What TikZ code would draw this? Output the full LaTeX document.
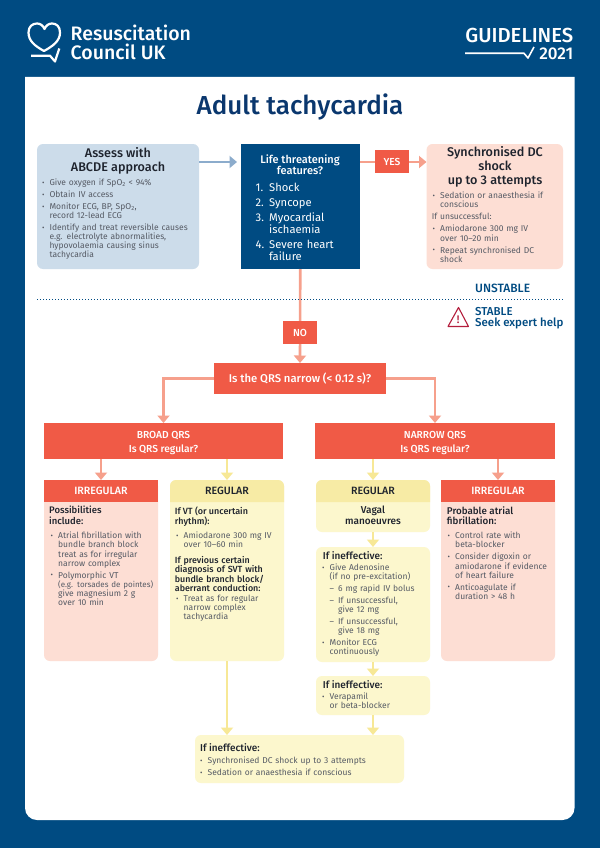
\documentclass[tikz,border=0pt]{standalone}
\usepackage{fontspec}
\setmainfont{Fira Sans}[BoldFont={Fira Sans Medium}]
\usetikzlibrary{arrows.meta, calc}
\definecolor{rcukNavy}{RGB}{0, 75, 130}
\definecolor{rcukTitle}{RGB}{10, 55, 110}
\definecolor{rcukBlue}{RGB}{204, 220, 234}
\definecolor{rcukBlueLine}{RGB}{140, 172, 204}
\definecolor{rcukRed}{RGB}{240, 90, 70}
\definecolor{rcukSalmon}{RGB}{246, 160, 140}
\definecolor{rcukPink}{RGB}{253, 222, 212}
\definecolor{rcukYellow}{RGB}{252, 247, 205}
\definecolor{rcukYellowHead}{RGB}{247, 235, 165}
\definecolor{rcukYellowLine}{RGB}{247, 232, 150}
\definecolor{rcukInk}{RGB}{30, 35, 45}
\definecolor{rcukGrey}{RGB}{85, 90, 100}
\definecolor{rcukWarn}{RGB}{180, 30, 60}
\newcommand{\nl}{\newline}
\newcommand{\bulletItem}[1]{\hangindent=7.5pt\hangafter=1\noindent\hbox to 7.5pt{\raisebox{0.2pt}{\fontsize{7.5}{7.5}\selectfont\textbullet}\hss}#1\par}
\newcommand{\dashItem}[1]{\hangindent=16pt\hangafter=1\noindent\hbox to 7.5pt{\hss}\hbox to 8.5pt{--\hss}#1\par}
\newcommand{\numItem}[2]{\hangindent=13.5pt\hangafter=1\noindent\hbox to 13.5pt{#1\hss}#2\par}
\tikzset{
  sized/.style 2 args={
    minimum width=#1pt,
    minimum height=#2pt,
    inner sep=0pt,
    outer sep=0pt,
    anchor=north west
  },
  boxBlue/.style={fill=rcukBlue, rounded corners=6pt},
  boxNavy/.style={fill=rcukNavy},
  boxRed/.style={fill=rcukRed, text=white, font=\fontsize{10.2}{13.4}\selectfont\bfseries, align=center},
  boxPink/.style={fill=rcukPink, rounded corners=6pt},
  boxYellow/.style={fill=rcukYellow, rounded corners=6pt},
  headRed/.style={font=\fontsize{10.6}{12}\selectfont\bfseries},
  headInk/.style={text=rcukInk, font=\fontsize{10.6}{12}\selectfont\bfseries},
  boxTitle/.style={inner sep=0pt, text=rcukInk, align=center, font=\fontsize{12.6}{13.8}\selectfont\bfseries},
  bodyText/.style={
    inner sep=0pt,
    anchor=north west,
    text width=#1pt,
    align=left,
    text=rcukGrey,
    font=\fontsize{8.5}{9.1}\selectfont,
    execute at begin node={\setlength{\parskip}{2.9pt}}
  },
  leadText/.style={
    inner sep=0pt,
    anchor=north west,
    align=left,
    text=rcukInk,
    font=\fontsize{#1}{10.4}\selectfont\bfseries
  },
  leadText/.default=10,
  linkBlue/.style={draw=rcukBlueLine, line width=2.6pt, -{Triangle[width=12pt,length=7.5pt]}},
  linkRed/.style={draw=rcukSalmon, line width=2.6pt, -{Triangle[width=12pt,length=7.5pt]}},
  linkYellow/.style={draw=rcukYellowLine, line width=2.6pt, -{Triangle[width=12pt,length=7.5pt]}}
}
\begin{document}
\begin{tikzpicture}[x=1pt,y=-1pt]
  \useasboundingbox (0,0) rectangle (600,848);
  \fill[rcukNavy] (0,0) rectangle (600,848);
  \fill[white] (25,77) -- (574.5,77) -- (574.5,100) [rounded corners=12pt] -- (574.5,820) -- (25,820) -- (25,100) [sharp corners] -- cycle;
  % Header
  \draw[white, line width=2.2pt, line join=round]
    (44,51) .. controls (35,46) and (28.5,41) .. (28.5,32.5)
    .. controls (28.5,26.5) and (32.5,23.5) .. (37,23.5)
    .. controls (40.5,23.5) and (43,25.5) .. (44.5,29)
    .. controls (46,25.5) and (48.5,23.5) .. (52,23.5)
    .. controls (56.5,23.5) and (60,26.5) .. (60,32.5)
    .. controls (60,41) and (53,46) .. (44,51) -- cycle;
  \draw[white, line width=2.2pt, line join=round] (31,55.7) -- (50,55.7) -- (55,61.5) -- (59.3,48.5);
  \node[inner sep=0pt, anchor=north west, text=white, align=left, font=\fontsize{19.5}{19.5}\selectfont\bfseries] (rcukName) at (70.5,24.5) {Resuscitation\\Council UK};
  \node[inner sep=0pt, anchor=east, text=white, font=\fontsize{20.3}{22}\selectfont\bfseries] (guideWord) at (573.5,35.8) {GUIDELINES};
  \node[inner sep=0pt, anchor=east, text=white, font=\fontsize{17}{20}\selectfont\bfseries] (guideYear) at (573.5,54) {2021};
  \draw[white, line width=1.6pt, line join=round] (465,53.3) -- (524,53.3) -- (528,58) -- (534,47);
  \node[text=rcukTitle, font=\fontsize{26}{30}\selectfont\bfseries, inner sep=0pt] (title) at (300,107) {Adult tachycardia};
  % Top row
  \node[sized={162}{125}, boxBlue] (abcde) at (37,144) {};
  \node[sized={119.5}{125}, boxNavy] (lifeBox) at (240.5,144) {};
  \node[sized={136.5}{125}, boxPink] (shock) at (426.5,144) {};
  \coordinate (topRow) at (0,162);
  \draw[linkBlue, shorten >=3.5pt] (abcde.east |- topRow) -- (lifeBox.west |- topRow);
  \draw[linkRed] (lifeBox.east |- topRow) -- (shock.west |- topRow);
  \node[sized={34}{23}, boxRed, anchor=center] (yesBox) at (392,161.5) {YES};
  \node[boxTitle] (abcdeTitle) at (118,161) {Assess with\\ABCDE approach};
  \node[bodyText=150] (abcdeList) at (41.8,178.5) {
    \bulletItem{Give oxygen if SpO\textsubscript{2} < 94\%}
    \bulletItem{Obtain IV access}
    \bulletItem{Monitor ECG, BP, SpO\textsubscript{2},\nl record 12-lead ECG}
    \bulletItem{Identify and treat reversible causes\nl e.g. electrolyte abnormalities,\nl hypovolaemia causing sinus\nl tachycardia}
  };
  \node[inner sep=0pt, text=white, align=center, font=\fontsize{11}{11.4}\selectfont\bfseries] (lifeTitle) at (300,164.5) {Life threatening\\features?};
  \node[bodyText=100, text=white, font=\fontsize{11.2}{12}\selectfont] (lifeList) at (255.5,183) {
    \numItem{1.}{Shock}
    \numItem{2.}{Syncope}
    \numItem{3.}{Myocardial\nl ischaemia}
    \numItem{4.}{Severe heart\nl failure}
  };
  \node[boxTitle] (shockTitle) at (495,167) {Synchronised DC\\shock\\up to 3 attempts};
  \node[bodyText=128] (shockList) at (432.5,192) {
    \bulletItem{Sedation or anaesthesia if\nl conscious}
    \noindent\hskip-0.8pt If unsuccessful:\par
    \bulletItem{Amiodarone 300 mg IV\nl over 10--20 min}
    \bulletItem{Repeat synchronised DC\nl shock}
  };
  % QRS question
  \node[sized={172}{31}, boxRed, font=\fontsize{11.3}{13}\selectfont\bfseries] (qrsBox) at (214,363) {Is the QRS narrow (< 0.12 s)?};
  \draw[linkRed] (lifeBox.south) -- (qrsBox.north);
  \node[sized={34}{23}, boxRed, anchor=center] (noBox) at (300,332.5) {NO};
  \coordinate (splitLeft) at (37,299.7);
  \coordinate (splitRight) at (564,299.7);
  \draw[rcukNavy, line width=1pt, dotted] (splitLeft) -- (splitRight);
  \node[inner sep=0pt, anchor=west, text=rcukNavy, font=\fontsize{12}{12}\selectfont\bfseries] (unstable) at (475,288) {UNSTABLE};
  \node[inner sep=0pt, anchor=north west, align=left, text=rcukNavy, font=\fontsize{11.5}{11}\selectfont\bfseries] (stable) at (475,307) {STABLE\\Seek expert help};
  \draw[rcukWarn, line width=1.1pt, line join=round] (458.5,307.5) -- (468.5,326.5) -- (448,326.5) -- cycle;
  \node[inner sep=0pt, text=rcukWarn, font=\fontsize{11}{12}\selectfont\bfseries] (warnMark) at (458.3,319.5) {!};
  % Broad and narrow
  \node[sized={239}{36}, boxRed] (broad) at (44,423) {\rule{0pt}{11pt}BROAD QRS\\Is QRS regular?};
  \node[sized={240}{36}, boxRed] (narrow) at (315,423) {\rule{0pt}{11pt}NARROW QRS\\Is QRS regular?};
  \draw[linkRed] (qrsBox.west) -| (broad.north);
  \draw[linkRed] (qrsBox.east) -| (narrow.north);
  % Broad branches
  \node[sized={114}{181}, boxPink] (irrLeft) at (44,480) {};
  \node[sized={114}{22}, boxRed, headRed] (irrLeftHead) at (44,480) {IRREGULAR};
  \node[sized={114}{181}, boxYellow] (regLeft) at (170,480) {};
  \fill[rcukYellowHead] (170,502) [rounded corners=6pt] |- (284,480) [sharp corners] -- (284,502) -- cycle;
  \node[sized={114}{22}, headInk] (regLeftHead) at (170,480) {REGULAR};
  \draw[linkRed] (irrLeft.north |- broad.south) -- (irrLeft.north);
  \draw[linkYellow] (regLeft.north |- broad.south) -- (regLeft.north);
  \node[leadText=9.5] (irrLeftLead) at (49,506.2) {Possibilities\\include:};
  \node[bodyText=108] (irrLeftList) at (50.5,532) {
    \bulletItem{Atrial fibrillation with\nl bundle branch block\nl treat as for irregular\nl narrow complex}
    \bulletItem{Polymorphic VT\nl {\fontsize{8}{9.1}\selectfont (e.g. torsades de pointes)}\nl give magnesium 2 g\nl over 10 min}
  };
  \node[leadText=9] (regLeftLead) at (174.7,506.2) {If VT (or uncertain\\rhythm):};
  \node[bodyText=106] (regLeftList) at (176,532) {
    \bulletItem{Amiodarone 300 mg IV\nl over 10--60 min}
  };
  \node[bodyText=108, text=rcukInk, font=\fontsize{8.9}{9.1}\selectfont\bfseries] (regLeftLeadTwo) at (174.7,556) {If previous certain\\diagnosis of SVT with\\bundle branch block/\\aberrant conduction:};
  \node[bodyText=106] (regLeftListTwo) at (176,595) {
    \bulletItem{Treat as for regular\nl narrow complex\nl tachycardia}
  };
  % Narrow branches
  \node[sized={114}{52}, boxYellow] (regRight) at (316,480) {};
  \fill[rcukYellowHead] (316,502) [rounded corners=6pt] |- (430,480) [sharp corners] -- (430,502) -- cycle;
  \node[sized={114}{22}, headInk] (regRightHead) at (316,480) {REGULAR};
  \node[sized={114}{181}, boxPink] (irrRight) at (441,480) {};
  \node[sized={114}{22}, boxRed, headRed] (irrRightHead) at (441,480) {IRREGULAR};
  \draw[linkYellow] (regRight.north |- narrow.south) -- (regRight.north);
  \draw[linkRed] (irrRight.north |- narrow.south) -- (irrRight.north);
  \node[leadText, align=center, anchor=north] (vagalLead) at (373,506.2) {Vagal\\manoeuvres};
  \node[leadText=9.8] (irrRightLead) at (446.7,506.2) {Probable atrial\\fibrillation:};
  \node[bodyText=104] (irrRightList) at (447.5,532) {
    \bulletItem{Control rate with\nl beta-blocker}
    \bulletItem{Consider digoxin or\nl amiodarone if evidence\nl of heart failure}
    \bulletItem{Anticoagulate if\nl duration > 48 h}
  };
  \node[sized={114}{115}, boxYellow] (ineffOne) at (316,547) {};
  \node[sized={114}{39}, boxYellow] (ineffTwo) at (316,676) {};
  \node[sized={209}{48}, boxYellow] (ineffLast) at (195,735) {};
  \draw[linkYellow] (regRight.south) -- (ineffOne.north);
  \draw[linkYellow] (ineffOne.south) -- (ineffTwo.north);
  \draw[linkYellow] (ineffTwo.south) -- (ineffTwo.south |- ineffLast.north);
  \draw[linkYellow] (regLeft.south) -- (regLeft.south |- ineffLast.north);
  \node[leadText] (ineffOneLead) at (322.7,551) {If ineffective:};
  \node[bodyText=104] (ineffOneList) at (322,563.5) {
    \bulletItem{Give Adenosine\nl (if no pre-excitation)}
    \dashItem{6 mg rapid IV bolus}
    \dashItem{If unsuccessful,\nl give 12 mg}
    \dashItem{If unsuccessful,\nl give 18 mg}
    \bulletItem{Monitor ECG\nl continuously}
  };
  \node[leadText] (ineffTwoLead) at (322.7,680) {If ineffective:};
  \node[bodyText=104] (ineffTwoList) at (322,692.8) {
    \bulletItem{Verapamil\nl or beta-blocker}
  };
  \node[leadText] (ineffLastLead) at (200,743) {If ineffective:};
  \node[bodyText=195] (ineffLastList) at (200,756.5) {
    \bulletItem{Synchronised DC shock up to 3 attempts}
    \bulletItem{Sedation or anaesthesia if conscious}
  };
\end{tikzpicture}
\end{document}
